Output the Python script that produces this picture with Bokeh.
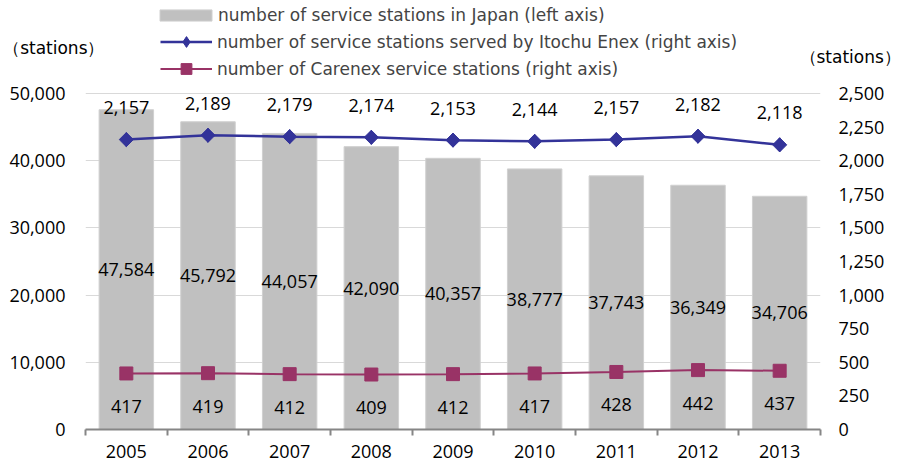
import numpy as np
from bokeh.plotting import figure
from bokeh.models import (Range1d, LinearAxis, FixedTicker, NumeralTickFormatter,
                          Legend, LegendItem)
from bokeh.core.properties import value
from bokeh.embed import file_html
from bokeh.resources import INLINE

# ---- data ----
years = ["2005", "2006", "2007", "2008", "2009", "2010", "2011", "2012", "2013"]
japan_stations = [47584, 45792, 44057, 42090, 40357, 38777, 37743, 36349, 34706]
itochu_stations = [2157, 2189, 2179, 2174, 2153, 2144, 2157, 2182, 2118]
carenex_stations = [417, 419, 412, 409, 412, 417, 428, 442, 437]
left_ticks = [0, 10000, 20000, 30000, 40000, 50000]
right_ticks = [0, 250, 500, 750, 1000, 1250, 1500, 1750, 2000, 2250, 2500]

series_names = [
    "number of service stations in Japan (left axis)",
    "number of service stations served by Itochu Enex (right axis)",
    "number of Carenex service stations (right axis)",
]
unit_label = "（stations）"

FONT = "Open Sans"          # numbers
TEXT_FONT = "DejaVu Sans"   # legend and unit captions
BAR_COLOR = "#c0c0c0"
BLUE = "#333399"
MAROON = "#993366"
AXIS_GRAY = "#868686"

# ---- layout constants (pixels) ----
W, H = 903, 463
B_BOTTOM = 34
FRAME_H = H - B_BOTTOM          # frame spans the whole height above the x axis
TOP_TICK_PX = 93                # pixel row of the highest tick (from the top)
scale_px = FRAME_H - TOP_TICK_PX
left_max = left_ticks[-1] * FRAME_H / scale_px
right_max = right_ticks[-1] * FRAME_H / scale_px
LEFT_UNIT_ROW = 47              # pixel rows of the unit captions
RIGHT_UNIT_ROW = 56

n = len(years)
centers = [i + 0.5 for i in range(n)]
bounds = [float(i) for i in range(n + 1)]

p = figure(width=W, height=H,
           x_range=Range1d(0, n), y_range=Range1d(0, left_max),
           output_backend="svg", toolbar_location=None,
           min_border_left=80, min_border_right=81,
           min_border_top=0, min_border_bottom=B_BOTTOM)
p.outline_line_color = None
p.extra_y_ranges = {"right": Range1d(0, right_max),
                    "px": Range1d(FRAME_H, 0)}

xa = p.xaxis[0]
xa.ticker = FixedTicker(ticks=centers, minor_ticks=bounds)
xa.major_label_overrides = {c: y for c, y in zip(centers, years)}
xa.axis_line_color = AXIS_GRAY
xa.axis_line_width = 2
xa.major_tick_line_color = None
xa.major_tick_out = 0
xa.major_tick_in = 0
xa.minor_tick_line_color = AXIS_GRAY
xa.minor_tick_line_width = 2
xa.minor_tick_out = 6
xa.minor_tick_in = 0
xa.major_label_standoff = 9
xa.major_label_text_font = FONT
xa.major_label_text_font_size = "18px"
xa.major_label_text_color = "black"


def style_y(ax, standoff, font=FONT, size="18px"):
    ax.axis_line_color = None
    ax.major_tick_line_color = None
    ax.minor_tick_line_color = None
    ax.major_tick_out = 0
    ax.major_tick_in = 0
    ax.major_label_standoff = standoff
    ax.major_label_text_font = font
    ax.major_label_text_font_size = size
    ax.major_label_text_color = "black"


ya = p.yaxis[0]
ya.ticker = FixedTicker(ticks=left_ticks)
ya.formatter = NumeralTickFormatter(format="0,0")
style_y(ya, 20)

ra = LinearAxis(y_range_name="right", ticker=FixedTicker(ticks=right_ticks),
                formatter=NumeralTickFormatter(format="0,0"))
style_y(ra, 18)
p.add_layout(ra, "right")

# unit captions, as single-tick axes outside the numeric axes
lu = LinearAxis(y_range_name="px", ticker=FixedTicker(ticks=[LEFT_UNIT_ROW]),
                major_label_overrides={LEFT_UNIT_ROW: unit_label})
style_y(lu, -98, TEXT_FONT, "17px")
p.add_layout(lu, "left")
ru = LinearAxis(y_range_name="px", ticker=FixedTicker(ticks=[RIGHT_UNIT_ROW]),
                major_label_overrides={RIGHT_UNIT_ROW: unit_label})
style_y(ru, -88, TEXT_FONT, "17px")
p.add_layout(ru, "right")

p.xgrid.visible = False
p.ygrid.ticker = FixedTicker(ticks=left_ticks)
p.ygrid.grid_line_color = "#d9d9d9"
p.ygrid.grid_line_width = 1

bars = p.vbar(x=centers, top=japan_stations, width=0.667, bottom=0,
              fill_color=BAR_COLOR, line_color="#d0d0d0", line_width=1)

it_line = p.line(x=centers, y=itochu_stations, y_range_name="right",
                 line_color=BLUE, line_width=2.5)
it_diam = p.scatter(x=centers, y=itochu_stations, y_range_name="right",
                    marker="diamond", size=14, fill_color=BLUE, line_color=BLUE)
it_pts = p.scatter(x=centers, y=itochu_stations, y_range_name="right",
                   marker="square", angle=np.pi / 4, size=10,
                   fill_color=BLUE, line_color=BLUE)
ca_line = p.line(x=centers, y=carenex_stations, y_range_name="right",
                 line_color=MAROON, line_width=2)
ca_pts = p.scatter(x=centers, y=carenex_stations, y_range_name="right",
                   marker="square", size=13, fill_color=MAROON, line_color=MAROON)

p.text(x=centers, y=[v / 2 for v in japan_stations],
       text=[f"{v:,}" for v in japan_stations],
       text_align="center", text_baseline="middle",
       text_font=value(FONT), text_font_size="18px", text_color="black")
p.text(x=centers, y=itochu_stations, y_range_name="right",
       text=[f"{v:,}" for v in itochu_stations], y_offset=-32,
       text_align="center", text_baseline="middle",
       text_font=value(FONT), text_font_size="18px", text_color="black")
p.text(x=centers, y=carenex_stations, y_range_name="right",
       text=[f"{v:,}" for v in carenex_stations], y_offset=33,
       text_align="center", text_baseline="middle",
       text_font=value(FONT), text_font_size="18px", text_color="black")

# legends (inside the frame, above the top gridline)
leg1 = Legend(items=[LegendItem(label=series_names[0], renderers=[bars])],
              location=(68, FRAME_H - 25), orientation="vertical",
              glyph_width=65, glyph_height=14, label_height=14, spacing=0,
              padding=0, margin=0, label_standoff=0,
              label_text_font=TEXT_FONT, label_text_font_size="17px",
              background_fill_alpha=0, border_line_color=None)
leg2 = Legend(items=[LegendItem(label=series_names[1], renderers=[it_line, it_diam]),
                     LegendItem(label=series_names[2], renderers=[ca_line, ca_pts])],
              location=(75, FRAME_H - 82), orientation="vertical",
              glyph_width=52, glyph_height=27, label_height=20, spacing=0,
              padding=0, margin=0, label_standoff=5,
              label_text_font=TEXT_FONT, label_text_font_size="17px",
              background_fill_alpha=0, border_line_color=None)
p.add_layout(leg1, "center")
p.add_layout(leg2, "center")

open("out.html", "w").write(file_html(p, INLINE))
